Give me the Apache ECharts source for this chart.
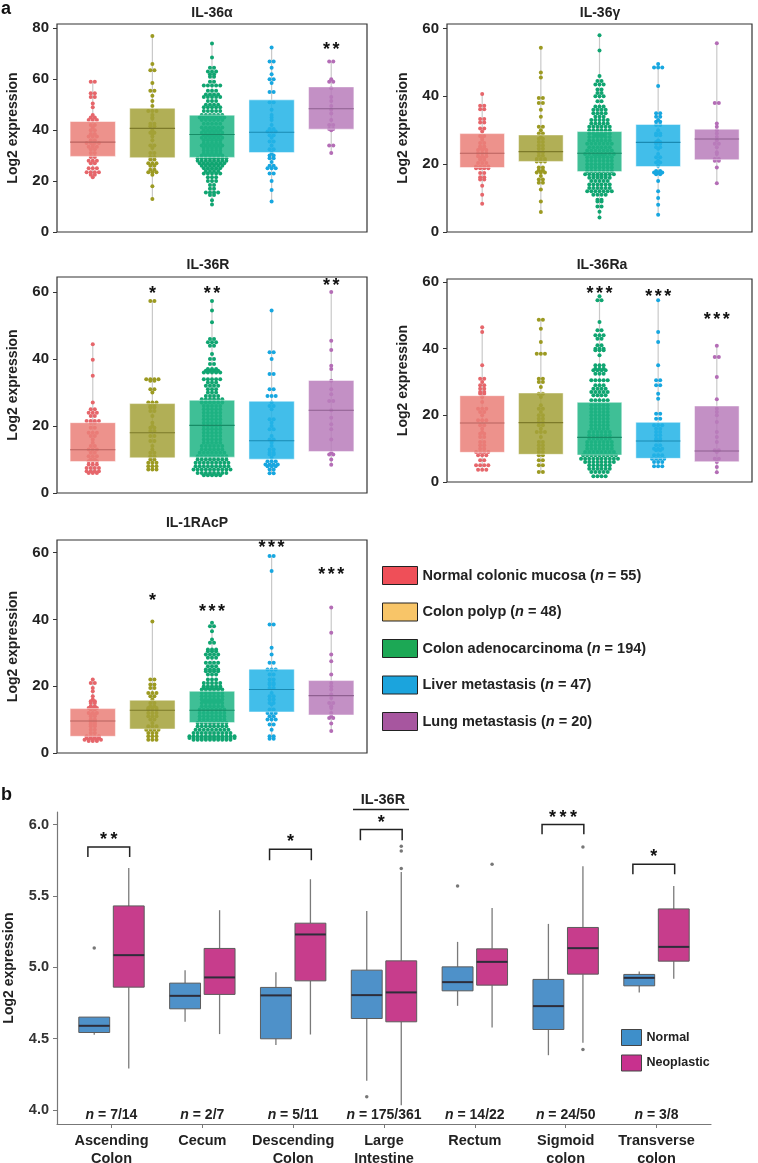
<!DOCTYPE html>
<html><head><meta charset="utf-8">
<script src="https://cdn.jsdelivr.net/npm/echarts@6/dist/echarts.min.js"></script>
<style>html,body{margin:0;padding:0;background:#fff}#c{width:758px;height:1163px}</style>
</head><body><div id="c"></div><script>
// ---------------- DATA: panel a ----------------
const groups = ['Normal colonic mucosa', 'Colon polyp', 'Colon adenocarcinoma', 'Liver metastasis', 'Lung metastasis'];
const groupN = [55, 48, 194, 47, 20];
const panelTitles = ['IL-36α', 'IL-36γ', 'IL-36R', 'IL-36Ra', 'IL-1RAcP'];
const yTicksA = [[0,20,40,60,80],[0,20,40,60],[0,20,40,60],[0,20,40,60],[0,20,40,60]];
const yMaxA = [81.7, 61.3, 64.5, 60.9, 63.8];

// box stats: [low whisker, q1, median, q3, high whisker]
const box_IL36a = [[21.4,29.7,35.3,43.4,59.1],[12.9,29.2,40.7,48.6,77.0],[10.5,29.3,38.3,45.9,73.7],[11.6,31.2,39.2,51.9,72.3],[30.7,40.4,48.4,57.0,66.8]];
const box_IL36g = [[8.3,19.0,23.2,29.0,40.7],[5.9,20.8,23.7,28.6,54.3],[4.3,17.8,23.2,29.6,58.0],[5.1,19.3,26.4,31.7,49.5],[14.4,21.3,27.4,30.3,55.6]];
const box_IL36R = [[6.1,9.4,12.9,21.0,44.4],[6.7,10.5,18.0,26.7,57.3],[5.3,10.7,20.2,27.7,57.3],[5.9,10.1,15.6,27.4,54.5],[8.4,12.4,24.7,33.6,60.0]];
const box_IL36Ra = [[3.7,8.9,17.7,25.9,46.4],[2.9,8.3,17.8,26.7,48.7],[1.7,8.1,13.4,23.9,55.7],[4.7,7.1,12.3,17.9,54.5],[2.9,6.1,9.3,22.8,40.9]];
const box_IL1RAcP = [[3.6,5.0,9.6,13.3,22.0],[4.0,7.2,12.8,15.8,39.4],[4.0,9.1,12.8,18.5,39.0],[4.3,12.3,19.0,25.1,59.0],[6.6,11.4,17.2,21.7,43.8]];

// dots: per group, rows of [value, number of samples at that value]
const dots_IL36a = [
 [[59,2],[54.5,2],[53,2],[50.5,1],[49,1],[46,1],[45,2],[44,3],[42,2],[41,1],[40,2],[38.5,2],[37.5,3],[36,2],[35,4],[34,1],[33.5,3],[32.5,2],[31,2],[29.5,2],[28,3],[27,2],[25,3],[23.5,4],[22.5,2],[21.5,1]],
 [[77,1],[66,1],[63.5,2],[58.5,1],[55.5,2],[53.5,1],[51.5,1],[49.5,1],[47.5,3],[46,1],[45,1],[44.5,1],[42.5,2],[41.5,2],[40,1],[39,2],[38.5,1],[37.5,1],[36,1],[34,2],[33,1],[31,2],[29.5,2],[28.5,2],[27,3],[26,2],[24.5,2],[23.5,3],[22.5,1],[18,1],[13,1]],
 [[74,1],[68.5,1],[64.5,2],[63,3],[62,2],[61,2],[59,2],[57.5,5],[55.5,3],[54,4],[53,5],[51.5,3],[50,4],[49,5],[47.5,5],[46,6],[45,7],[44,6],[42.5,5],[41,6],[40,5],[39,6],[38,5],[37,6],[36,5],[35,5],[34,6],[33,5],[32,5],[31,5],[30,6],[29,8],[28,8],[27,7],[26,6],[25,5],[24,4],[23,5],[21.5,3],[20,3],[18.5,2],[17,2],[15.5,4],[14.5,2],[12.5,1],[10.8,1]],
 [[72.5,1],[67,2],[64.5,1],[62,1],[60,2],[58.5,1],[55,2],[51,2],[48,1],[46,1],[45,1],[44,1],[42,1],[40.5,2],[39.5,3],[38,2],[37,1],[35.5,2],[34,1],[32.5,2],[31,1],[30,2],[29,2],[27.5,1],[26,2],[25,3],[23,2],[20,1],[16.5,1],[12,1]],
 [[67,2],[60,1],[59,2],[56.5,1],[53,1],[51.5,1],[49.5,1],[48,1],[46.5,1],[44,1],[42,2],[40.5,2],[40,1],[34,2],[31,1]]
];
const dots_IL36g = [
 [[40.7,1],[37.2,2],[36.2,2],[33.3,2],[32.3,2],[30.5,2],[29.6,1],[28.3,2],[27.8,1],[27.2,1],[26.2,2],[25.2,2],[24.7,2],[24.2,3],[23.2,3],[22.3,3],[21.8,2],[21.3,2],[20.3,3],[19.3,4],[18.8,4],[17.4,2],[16.1,2],[15.5,2],[13.6,1],[11,1],[8.3,1]],
 [[54.3,1],[47,1],[45.5,1],[39.5,2],[38,2],[36,1],[34,1],[31,2],[30,1],[29,2],[28,1],[27.5,2],[26.5,2],[25.5,2],[24.5,2],[23.5,2],[22.5,2],[21.5,3],[20.8,3],[19,2],[18.2,2],[17.5,3],[16.5,1],[15.5,2],[14.5,2],[12.5,1],[9,1],[5.9,1]],
 [[58,1],[53.5,1],[46,1],[44.5,2],[43.5,3],[42,2],[41,2],[40,3],[38.5,2],[37,3],[36,4],[35,4],[34,3],[33,5],[32,5],[31,6],[30,6],[29,6],[28.5,3],[28,6],[27,6],[26,7],[25,6],[24,7],[23,8],[22.5,3],[22,7],[21,7],[20,7],[19,7],[18,7],[17,8],[16.5,4],[16,6],[15,5],[14,6],[13,6],[12,7],[11,4],[9.5,2],[9,2],[7.5,2],[6,1],[4.3,1]],
 [[49.5,1],[48.5,3],[43,1],[35,2],[34,2],[33,1],[32.5,2],[31.5,2],[30,1],[29,2],[28.5,2],[27,1],[26.5,2],[26,2],[25,2],[24.5,1],[23,1],[22,2],[21,1],[20.5,2],[19.5,1],[18,2],[17.5,3],[17,2],[15,1],[12,1],[10,1],[8,1],[5.1,1]],
 [[55.6,1],[38,2],[32,1],[31,1],[30,1],[29,1],[28,1],[27,1],[26,2],[25,1],[23.5,1],[23,1],[21.5,2],[21,2],[19,1],[14.4,1]]
];
const dots_IL36R = [
 [[44.4,1],[39.8,1],[35,1],[27,1],[25,2],[24,3],[23,2],[21.5,4],[21,2],[19.5,2],[18,3],[17,2],[16,1],[15,1],[14,2],[13,3],[12,2],[11,3],[10,2],[9.5,3],[8.5,3],[7.5,4],[6.5,4],[6,3]],
 [[57.3,2],[34,4],[33.5,2],[31,2],[30,1],[27,3],[26,2],[25.5,2],[24.5,2],[23,1],[21,1],[20,1],[19.5,2],[18.5,2],[17,2],[15.5,2],[14,1],[13,1],[12,2],[11,2],[10,2],[9,3],[8,3],[7,3]],
 [[57.3,1],[54.5,1],[51,1],[46,2],[45,3],[44,2],[41.5,1],[40,2],[38.5,2],[37,3],[36.5,4],[36,5],[34,5],[33,3],[32,4],[31,3],[30,3],[29,4],[28,6],[27,6],[26,5],[25,5],[24,5],[23,5],[22,5],[21,5],[20,5],[19,5],[18,5],[17,5],[16,5],[15,5],[14,6],[13,6],[12,7],[11,8],[10,8],[9,9],[8,9],[7,10],[6,8],[5.3,5]],
 [[54.5,1],[42,2],[40,1],[35.5,2],[31,2],[29,3],[27,1],[26,2],[25,1],[22,2],[21,1],[20,1],[19,2],[17,1],[16,2],[15,1],[14,1],[13,2],[12,2],[11.5,2],[10.5,1],[9.5,3],[8.5,4],[8,3],[7,2],[5.9,2]],
 [[60,1],[45.5,1],[42.7,1],[38,1],[37,1],[33.5,1],[31,1],[29.5,1],[27.5,2],[24.7,1],[22.5,1],[20.5,1],[19,1],[16,1],[12,1],[11.5,2],[10,1],[8.4,1]]
];
const dots_IL36Ra = [
 [[46.4,1],[45,1],[35,1],[31,2],[30,1],[29,2],[28,2],[27,2],[26.5,2],[25.5,1],[24,1],[22,3],[21,2],[20,1],[18.5,3],[17,2],[16,1],[15,1],[14.5,2],[13.5,2],[12,2],[11,2],[10,2],[9,4],[8,3],[6.5,2],[5,4],[3.7,3]],
 [[48.7,2],[46,1],[42,1],[38.5,3],[31,2],[30,2],[28.5,1],[26.5,2],[25.5,1],[23,1],[22,2],[21,1],[20,2],[19,2],[18,2],[17,2],[16,1],[15,3],[13.5,1],[12,2],[11,2],[10,2],[9,2],[8,2],[6.5,2],[5,2],[3,2]],
 [[55.7,1],[54.5,2],[48,1],[45.5,2],[44,3],[43,2],[41,2],[40,3],[39.5,3],[38,1],[35,3],[34,3],[33.5,4],[32.5,3],[30.5,5],[29,3],[28,4],[27,5],[26,4],[24.5,5],[23,5],[22,5],[21,5],[20,5],[19,5],[18,5],[17,5],[16,5],[15,6],[14,6],[13,6],[12,7],[11,7],[10,7],[9,8],[8,9],[7,10],[6,8],[5,6],[4,6],[3,5],[1.7,4]],
 [[54.5,1],[45,1],[42,1],[35,1],[30.5,2],[29,2],[26.5,1],[25,1],[20.5,2],[19,2],[17,3],[16,2],[15,2],[14,2],[13,2],[12.5,2],[11,2],[10,3],[9.5,2],[8,3],[7,4],[6,3],[4.7,3]],
 [[40.9,1],[37.5,2],[31.5,1],[24.8,1],[22,1],[21,1],[20,1],[18,1],[15,1],[13.5,1],[12,1],[9.5,2],[9,1],[7,2],[6,1],[4.5,1],[2.9,1]]
];
const dots_IL1RAcP = [
 [[22,1],[21,2],[19.5,1],[18.5,1],[17,1],[16,1],[15.5,2],[15,2],[14,2],[13.5,3],[13,2],[12,3],[11.5,2],[11,2],[10,2],[9.5,2],[9,2],[8.5,2],[8,2],[7,2],[6,2],[5,4],[4.5,4],[4,5],[3.6,3]],
 [[39.4,1],[22,2],[20.5,2],[19.5,2],[18,3],[17,2],[16,1],[15,2],[14,2],[13.5,3],[13,3],[12,3],[11,3],[10,2],[9,1],[8,3],[7,4],[6,3],[5,3],[4,3]],
 [[39,1],[38,2],[36.5,1],[34,1],[33,2],[31,3],[30.5,3],[29.5,4],[28.5,3],[27,4],[26,3],[25,4],[24.5,4],[23.5,3],[22,3],[21,5],[20,5],[19.5,5],[19,6],[18,6],[17,6],[16,6],[15.5,5],[15,6],[14,6],[13,7],[12,7],[11,7],[10,7],[9,8],[8,8],[7,9],[6,10],[5,12],[4.5,12],[4,10]],
 [[59,2],[54.5,1],[38.5,2],[31.5,1],[29.5,1],[27,2],[25,3],[23.5,2],[22,2],[21,2],[20.5,2],[19.5,2],[18,1],[17,2],[16,2],[15,2],[14.5,1],[13,2],[12,3],[11,2],[10,3],[8.5,2],[7,1],[5,2],[4.3,2]],
 [[43.6,1],[36,1],[29.5,1],[27.5,1],[23.5,1],[21,1],[20,1],[19,1],[17.5,1],[16.5,1],[15,2],[14,1],[13.5,1],[12,1],[11,1],[10.5,2],[8.8,1],[6.6,1]]
];
// significance marks: [group (1-5), value, label]
const stars_IL36a = [[5,72.8,'**']];
const stars_IL36g = [];
const stars_IL36R = [[2,60.5,'*'],[3,60.5,'**'],[5,62.9,'**']];
const stars_IL36Ra = [[3,57.4,'***'],[4,56.4,'***'],[5,49.7,'***']];
const stars_IL1RAcP = [[2,46.6,'*'],[3,43.3,'***'],[4,62.3,'***'],[5,54.3,'***']];

// ---------------- DATA: panel b ----------------
const sites = ['Ascending\nColon','Cecum','Descending\nColon','Large\nIntestine','Rectum','Sigmoid\ncolon','Transverse\ncolon'];
const siteN = ['7/14','2/7','5/11','175/361','14/22','24/50','3/8'];
const yTicksB = [4.0, 4.5, 5.0, 5.5, 6.0];
// [low whisker, q1, median, q3, high whisker]
const normalBox = [[4.527,4.543,4.590,4.651,4.651],[4.618,4.709,4.800,4.889,4.980],[4.455,4.499,4.803,4.859,4.966],[4.205,4.641,4.805,4.980,5.395],[4.730,4.835,4.896,5.003,5.178],[4.384,4.564,4.728,4.915,5.304],[4.824,4.870,4.926,4.950,4.971]];
const neoBox = [[4.291,4.861,5.085,5.430,5.696],[4.532,4.810,4.929,5.132,5.400],[4.529,4.905,5.230,5.309,5.617],[4.034,4.618,4.824,5.045,5.668],[4.578,4.875,5.038,5.129,5.416],[4.471,4.952,5.134,5.279,5.708],[4.919,5.043,5.143,5.409,5.570]];
const normalOutliers = [[1,5.136],[4,4.093],[5,5.570]];
const neoOutliers = [[4,5.692],[4,5.815],[4,5.848],[5,5.722],[6,5.843],[6,4.424]];
// [site (1-7), bracket top value, bracket leg end value, label]
const sigBrackets = [[1,5.843,5.773,'**'],[3,5.827,5.750,'*'],[4,5.965,5.890,'*'],[6,6.0,5.932,'***'],[7,5.722,5.652,'*']];

// ---------------- STYLE / LAYOUT ----------------
const FONT = '"Liberation Sans", Arial, Helvetica, sans-serif';
const boxColorsA = ['#EA8079','#A4A23A','#1FB585','#23B3E6','#B97EBB'];
const medColorsA = ['#B8625E','#7D7A2A','#178C66','#1A8AB2','#8E5F90'];
const dotColorsA = ['#E6666B','#9C9A22','#10A571','#17A7E0','#B46DB6'];
const legendColorsA = ['#EF4F58','#F8C568','#1CA855','#1BA4DD','#A7569F'];
const gridsA = [
  {left:57, top:24, width:310, height:208},
  {left:447, top:24, width:305, height:208},
  {left:57, top:277, width:310, height:216},
  {left:447, top:279, width:305, height:203},
  {left:57, top:540, width:310, height:213}
];
const titlePos = [[212,13],[600,13],[208,265],[602,265],[197,523]];
const BW_A = 0.76, DOT_R = 2, DOT_STEP = 4.1;
const BW_B = 0.34, OFF_B = 0.19;
const Y_MIN_B = 3.902, Y_MAX_B = 6.088;

// draw a row of asterisks centred at (cx, cy), one text element each
function starGroup(label, cx, cy, step){
  const n = label.length, ch = [];
  for (let j=0;j<n;j++) ch.push({type:'text', x:cx+(j-(n-1)/2)*step, y:cy,
    style:{text:'*', align:'center', verticalAlign:'middle', font:'bold 18px '+FONT, fill:'#111'}});
  return ch;
}

const panels = [
  {box:box_IL36a, dots:dots_IL36a, stars:stars_IL36a},
  {box:box_IL36g, dots:dots_IL36g, stars:stars_IL36g},
  {box:box_IL36R, dots:dots_IL36R, stars:stars_IL36R},
  {box:box_IL36Ra, dots:dots_IL36Ra, stars:stars_IL36Ra},
  {box:box_IL1RAcP, dots:dots_IL1RAcP, stars:stars_IL1RAcP}
];

const option = {
  animation:false,
  textStyle:{fontFamily:FONT},
  grid:[], xAxis:[], yAxis:[], series:[], legend:[], graphic:[]
};

panels.forEach((p,k)=>{
  option.grid.push(Object.assign({show:true, borderColor:'#333', borderWidth:1.2, outerBoundsMode:'none'}, gridsA[k]));
  option.xAxis.push({type:'value', gridIndex:k, min:0.4, max:5.6, show:false, splitLine:{show:false}});
  option.yAxis.push({type:'value', gridIndex:k, min:0, max:yMaxA[k],
    name:'Log2 expression', nameLocation:'middle', nameGap:37,
    nameTextStyle:{fontSize:14, fontWeight:'bold', color:'#222', fontFamily:FONT},
    axisLine:{show:false},
    axisTick:{show:true, length:4, customValues:yTicksA[k], lineStyle:{color:'#333'}},
    axisLabel:{customValues:yTicksA[k], fontSize:15, fontWeight:'bold', color:'#222', margin:8, fontFamily:FONT},
    splitLine:{show:false}});
  // whiskers
  option.series.push({type:'custom', xAxisIndex:k, yAxisIndex:k, z:1, silent:true,
    data:p.box.map((b,i)=>[i+1,b[0],b[4]]),
    renderItem:(params,api)=>{
      const a=api.coord([api.value(0),api.value(1)]), b=api.coord([api.value(0),api.value(2)]);
      return {type:'line', shape:{x1:a[0],y1:a[1],x2:b[0],y2:b[1]}, style:{stroke:'#C9C9C9', lineWidth:1.2}};
    }});
  // dots (beeswarm rows)
  p.dots.forEach((rows,i)=>{
    const col = dotColorsA[i];
    option.series.push({type:'custom', name:groups[i], xAxisIndex:k, yAxisIndex:k, z:2, silent:true,
      data:rows.map(r=>[i+1,r[0],r[1]]),
      renderItem:(params,api)=>{
        const c=api.value(2); const pt=api.coord([api.value(0),api.value(1)]);
        const ch=[];
        for(let j=0;j<c;j++) ch.push({type:'circle', shape:{cx:pt[0]+(j-(c-1)/2)*DOT_STEP, cy:pt[1], r:DOT_R}, style:{fill:col}});
        return {type:'group', children:ch};
      }});
  });
  // boxes
  option.series.push({type:'custom', xAxisIndex:k, yAxisIndex:k, z:3, silent:true,
    data:p.box.map((b,i)=>[i+1,b[1],b[2],b[3]]),
    renderItem:(params,api)=>{
      const g=api.value(0), q1=api.value(1), md=api.value(2), q3=api.value(3);
      const a=api.coord([g-BW_A/2,q3]), b=api.coord([g+BW_A/2,q1]);
      const m1=api.coord([g-BW_A/2,md]), m2=api.coord([g+BW_A/2,md]);
      return {type:'group', children:[
        {type:'rect', shape:{x:a[0],y:a[1],width:b[0]-a[0],height:b[1]-a[1]}, style:{fill:boxColorsA[g-1], opacity:0.86, stroke:'rgba(255,255,255,0.55)', lineWidth:1}},
        {type:'line', shape:{x1:m1[0],y1:m1[1],x2:m2[0],y2:m2[1]}, style:{stroke:medColorsA[g-1], lineWidth:1.1}}
      ]};
    }});
  // significance stars
  const st = p.stars;
  option.series.push({type:'custom', xAxisIndex:k, yAxisIndex:k, z:4, silent:true, clip:false,
    data:st.map(s=>[s[0],s[1]]),
    renderItem:(params,api)=>{
      const pt=api.coord([api.value(0),api.value(1)]);
      return {type:'group', children:starGroup(st[params.dataIndex][2], pt[0], pt[1]+3.5, 9.5)};
    }});
  option.graphic.push({type:'text', x:titlePos[k][0], y:titlePos[k][1], style:{text:panelTitles[k], align:'center', verticalAlign:'middle', font:'bold 14px '+FONT, fill:'#222'}});
});

// legend a
option.legend.push({left:382, top:566, orient:'vertical', itemWidth:35, itemHeight:18, itemGap:17.5, padding:0,
  selectedMode:false, icon:'rect',
  data:groups.map((g,i)=>({name:g, itemStyle:{color:legendColorsA[i], borderColor:'#222', borderWidth:1}})),
  formatter:name=>name+' ({i|n} = '+groupN[groups.indexOf(name)]+')',
  textStyle:{fontSize:14.5, fontWeight:'bold', color:'#222', fontFamily:FONT,
    rich:{i:{fontStyle:'italic', fontSize:14.5, fontWeight:'bold', color:'#222', fontFamily:FONT}}}});

// ---------------- panel b ----------------
const kb = 5;
option.grid.push({left:57, top:812, width:654, height:312, outerBoundsMode:'none'});
const siteTicks = sites.map((s,i)=>i+1);
option.xAxis.push({type:'value', gridIndex:kb, min:0.4, max:7.6,
  axisLine:{show:true, lineStyle:{color:'#777', width:1.2}},
  axisTick:{show:true, length:4, customValues:siteTicks, lineStyle:{color:'#777'}},
  axisLabel:{customValues:siteTicks, formatter:v=>sites[Math.round(v)-1], fontSize:14.5, fontWeight:'bold', color:'#222', lineHeight:18, margin:8, fontFamily:FONT},
  splitLine:{show:false}});
option.yAxis.push({type:'value', gridIndex:kb, min:Y_MIN_B, max:Y_MAX_B,
  name:'Log2 expression', nameLocation:'middle', nameGap:41,
  nameTextStyle:{fontSize:14, fontWeight:'bold', color:'#222', fontFamily:FONT},
  axisLine:{show:true, lineStyle:{color:'#777', width:1.2}},
  axisTick:{show:true, length:4, customValues:yTicksB, lineStyle:{color:'#777'}},
  axisLabel:{customValues:yTicksB, formatter:v=>v.toFixed(1), fontSize:14.5, fontWeight:'bold', color:'#333', margin:8, fontFamily:FONT},
  splitLine:{show:false}});

function boxRenderB(off, fill){
  return (params, api)=>{
    const g=api.value(0), lo=api.value(1), q1=api.value(2), md=api.value(3), q3=api.value(4), hi=api.value(5);
    const x=g+off;
    const a=api.coord([x-BW_B/2,q3]), b=api.coord([x+BW_B/2,q1]);
    const wt=api.coord([x,hi]), wb=api.coord([x,lo]), c3=api.coord([x,q3]), c1=api.coord([x,q1]);
    const m1=api.coord([x-BW_B/2,md]), m2=api.coord([x+BW_B/2,md]);
    return {type:'group', children:[
      {type:'line', shape:{x1:wt[0],y1:wt[1],x2:c3[0],y2:c3[1]}, style:{stroke:'#7a7a7a', lineWidth:1.3}},
      {type:'line', shape:{x1:c1[0],y1:c1[1],x2:wb[0],y2:wb[1]}, style:{stroke:'#7a7a7a', lineWidth:1.3}},
      {type:'rect', shape:{x:a[0],y:a[1],width:b[0]-a[0],height:b[1]-a[1]}, style:{fill:fill, stroke:'#5c5c5c', lineWidth:1}},
      {type:'line', shape:{x1:m1[0],y1:m1[1],x2:m2[0],y2:m2[1]}, style:{stroke:'#2d2d3a', lineWidth:2}}
    ]};
  };
}
option.series.push({type:'custom', name:'Normal', xAxisIndex:kb, yAxisIndex:kb, z:2, silent:true,
  data:normalBox.map((b,i)=>[i+1].concat(b)), renderItem:boxRenderB(-OFF_B,'#4E91C9')});
option.series.push({type:'custom', name:'Neoplastic', xAxisIndex:kb, yAxisIndex:kb, z:2, silent:true,
  data:neoBox.map((b,i)=>[i+1].concat(b)), renderItem:boxRenderB(OFF_B,'#C73D8C')});
option.series.push({type:'scatter', xAxisIndex:kb, yAxisIndex:kb, z:3, silent:true, symbolSize:3.5,
  itemStyle:{color:'#555'}, data:normalOutliers.map(o=>[o[0]-OFF_B,o[1]])});
option.series.push({type:'scatter', xAxisIndex:kb, yAxisIndex:kb, z:3, silent:true, symbolSize:3.5,
  itemStyle:{color:'#555'}, data:neoOutliers.map(o=>[o[0]+OFF_B,o[1]])});
// brackets
option.series.push({type:'custom', xAxisIndex:kb, yAxisIndex:kb, z:4, silent:true, clip:false,
  data:sigBrackets.map(s=>[s[0],s[1],s[2]]),
  renderItem:(params,api)=>{
    const g=api.value(0)-0.03, top=api.value(1), leg=api.value(2);
    const l1=api.coord([g-0.23,leg]), l2=api.coord([g-0.23,top]), r2=api.coord([g+0.23,top]), r1=api.coord([g+0.23,leg]);
    const c=api.coord([g,top]);
    return {type:'group', children:[
      {type:'polyline', shape:{points:[l1,l2,r2,r1]}, style:{stroke:'#222', lineWidth:1.5, fill:null}}
    ].concat(starGroup(sigBrackets[params.dataIndex][3], c[0], c[1]-7, 10.5))};
  }});
// n labels
option.series.push({type:'custom', xAxisIndex:kb, yAxisIndex:kb, z:4, silent:true, clip:false,
  data:siteN.map((s,i)=>[i+1, Y_MIN_B]),
  renderItem:(params,api)=>{
    const pt=api.coord([api.value(0),api.value(1)]);
    return {type:'text', x:pt[0], y:pt[1]-9, style:{text:'{i|n} = '+siteN[params.dataIndex], align:'center', verticalAlign:'middle',
      font:'bold 14px '+FONT, fill:'#222', rich:{i:{fontStyle:'italic', fontWeight:'bold', fontSize:14, fontFamily:FONT, fill:'#222'}}}};
  }});
option.legend.push({left:621, top:1029, orient:'vertical', itemWidth:20, itemHeight:16, itemGap:8.5, padding:0,
  selectedMode:false, icon:'rect',
  data:[{name:'Normal', itemStyle:{color:'#3E8FCA', borderColor:'#444', borderWidth:1}},
        {name:'Neoplastic', itemStyle:{color:'#C8318E', borderColor:'#444', borderWidth:1}}],
  textStyle:{fontSize:12.5, fontWeight:'bold', color:'#222', fontFamily:FONT}});

// panel letters and heading
option.graphic.push({type:'text', x:1, y:9, style:{text:'a', verticalAlign:'middle', font:'bold 18px '+FONT, fill:'#111'}});
option.graphic.push({type:'text', x:1, y:795, style:{text:'b', verticalAlign:'middle', font:'bold 18px '+FONT, fill:'#111'}});
option.graphic.push({type:'text', x:383, y:800, style:{text:'IL-36R', align:'center', verticalAlign:'middle', font:'bold 14.5px '+FONT, fill:'#222'}});
option.graphic.push({type:'line', shape:{x1:353, y1:809.5, x2:409, y2:809.5}, style:{stroke:'#222', lineWidth:1.5}});

const chart = echarts.init(document.getElementById('c'), null, {renderer:'canvas'});
chart.setOption(option);
</script></body></html>
